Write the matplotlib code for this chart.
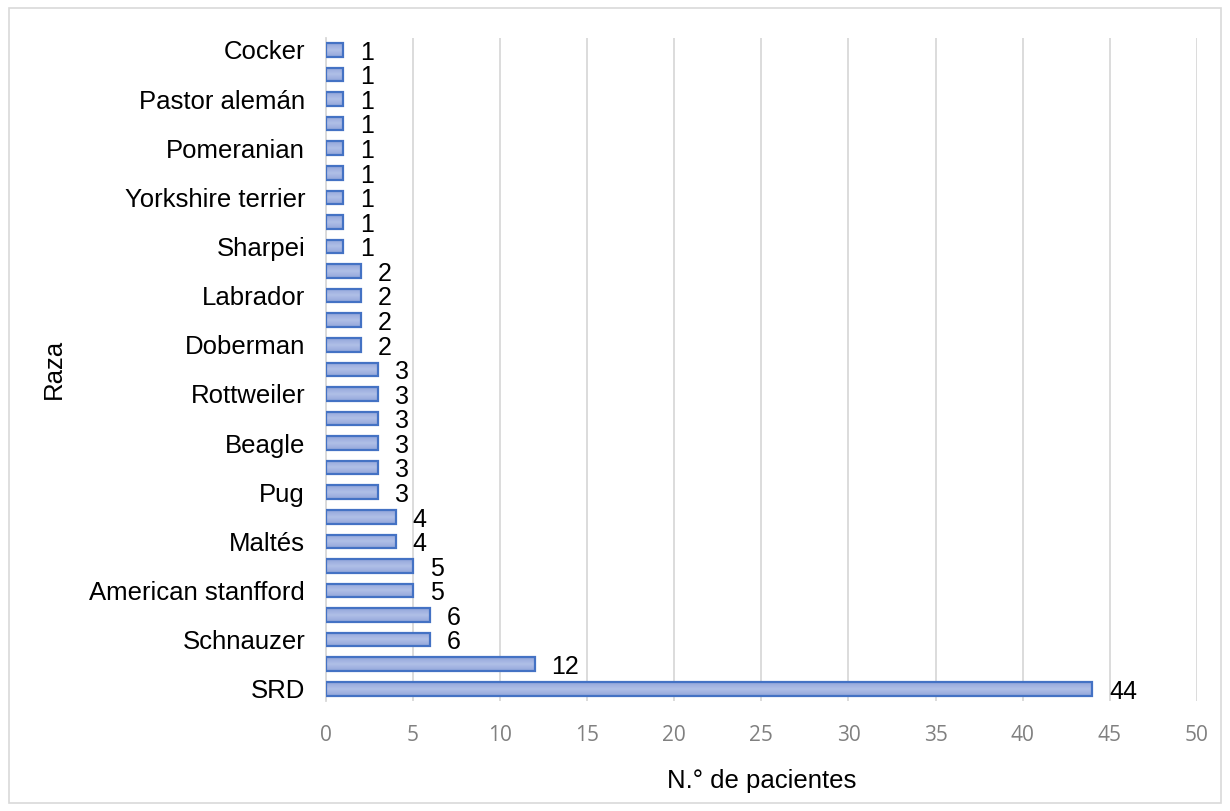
import matplotlib
matplotlib.use("Agg")
import matplotlib.pyplot as plt
import numpy as np
from matplotlib.colors import LinearSegmentedColormap
from matplotlib.patches import Rectangle

# breeds from bottom (SRD) to top (Cocker); only every other label is printed in the source
razas = ["SRD", "", "Schnauzer", "", "American stanfford", "", "Maltés", "",
         "Pug", "", "Beagle", "", "Rottweiler", "", "Doberman", "", "Labrador", "",
         "Sharpei", "", "Yorkshire terrier", "", "Pomeranian", "", "Pastor alemán", "",
         "Cocker"]
pacientes = [44, 12, 6, 6, 5, 5, 4, 4, 3, 3, 3, 3, 3, 3, 2, 2, 2, 2,
             1, 1, 1, 1, 1, 1, 1, 1, 1]
x_ticks = [0, 5, 10, 15, 20, 25, 30, 35, 40, 45, 50]

fig = plt.figure(figsize=(12.3, 8.11), dpi=100)
ax = fig.add_axes([0.265, 0.1356, 0.708, 0.818])

pos = list(range(len(razas)))
bars = ax.barh(pos, pacientes, height=0.55, color="none", edgecolor="#4472c4",
               linewidth=1.6, zorder=4)

# soft vertical gradient inside each bar, like the office chart fill
grad_cmap = LinearSegmentedColormap.from_list("bar", ["#93a6da", "#b0bfe7", "#93a6da"])
grad = np.linspace(0, 1, 64).reshape(-1, 1)
for b in bars:
    x0, y0, w, h = b.get_x(), b.get_y(), b.get_width(), b.get_height()
    im = ax.imshow(grad, cmap=grad_cmap, aspect="auto", extent=(x0, x0 + w, y0, y0 + h),
                   origin="lower", zorder=3)
    im.set_clip_path(b)

for p, v in zip(pos, pacientes):
    ax.annotate(str(v), (v, p), xytext=(12, -2), textcoords="offset points",
                va="center", ha="left", fontsize=18, color="black",
                family="Liberation Sans")

ax.set_xlim(0, 50)
ax.set_ylim(-0.5, len(razas) - 0.5)
ax.set_xticks(x_ticks)
ax.set_xticklabels([str(t) for t in x_ticks], fontsize=15, color="#808080",
                   family="Open Sans")
ax.set_yticks(pos)
ax.set_yticklabels(razas, fontsize=18.5, color="black", family="Liberation Sans")
ax.tick_params(axis="both", length=0)
ax.tick_params(axis="x", pad=17)
ax.tick_params(axis="y", pad=15)

ax.grid(axis="x", color="#d9d9d9", linewidth=1.3, zorder=0)
for s in ["top", "right", "bottom"]:
    ax.spines[s].set_visible(False)
ax.spines["left"].set_color("#d9d9d9")
ax.spines["left"].set_linewidth(1.3)

ax.set_xlabel("N.° de pacientes", fontsize=18.5, family="Liberation Sans", labelpad=17)
ax.set_ylabel("Raza", fontsize=18.5, family="Liberation Sans", labelpad=17)

# light frame round the whole chart
fig.patches.append(Rectangle((0.007, 0.01), 0.986, 0.98, transform=fig.transFigure,
                             fill=False, edgecolor="#d9d9d9", linewidth=1.2))

fig.savefig("out.png", dpi=100)
